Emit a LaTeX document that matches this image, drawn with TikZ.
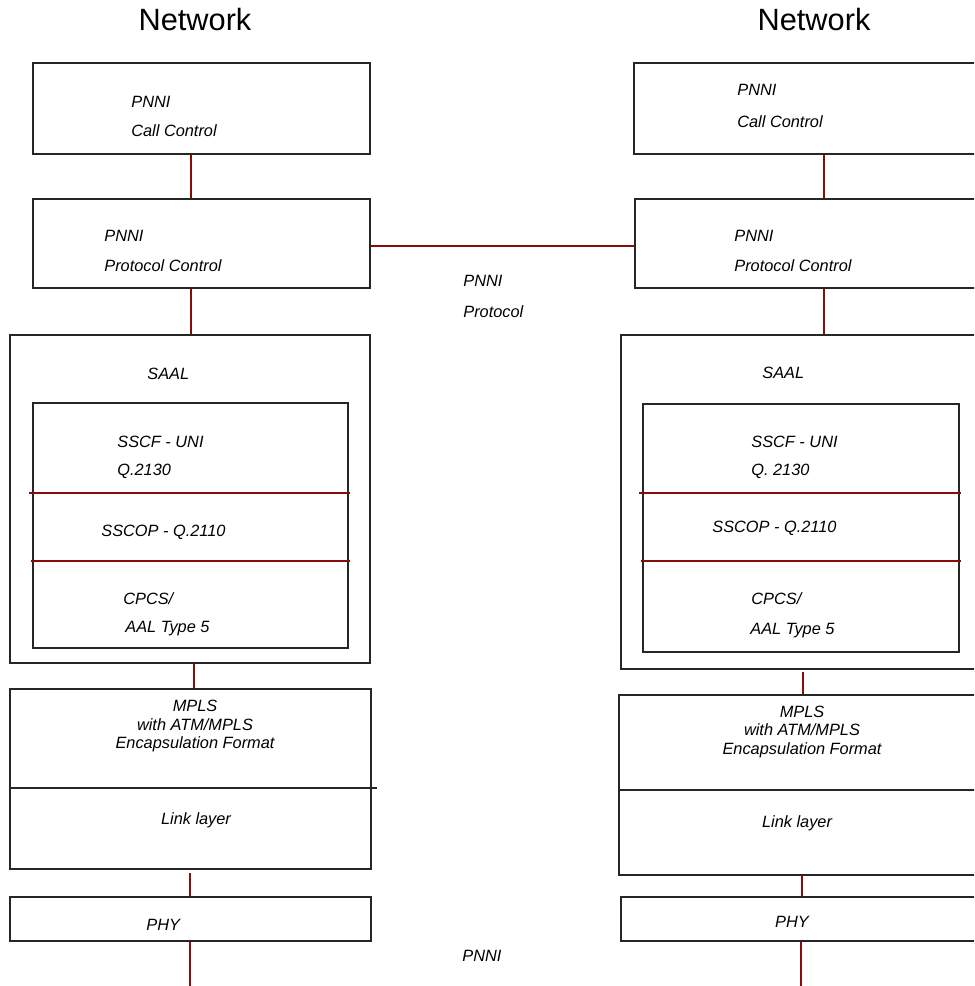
\documentclass[tikz,border=0pt]{standalone}
\usepackage{fontspec}
\setmainfont{Liberation Sans}
\usepackage{xcolor}
\usetikzlibrary{positioning,fit,calc}
\definecolor{linkred}{RGB}{135,12,12}

\begin{document}
\begin{tikzpicture}[x=0.02cm, y=-0.02cm,
  box/.style={draw=black!85, line width=0.8pt, inner sep=0pt},
  link/.style={draw=linkred, line width=0.9pt},
  lbl/.style={font=\fontsize{9.3}{11}\selectfont\itshape, inner sep=0pt},
  title/.style={font=\fontsize{17.5}{20}\selectfont, inner sep=0pt}]
\clip (0,0) rectangle (974,986);
% Titles
\node[title, anchor=base] (netL) at (195,31) {Network};
\node[title, anchor=base] (netR) at (814,31) {Network};
% Left stack
\node[box, fit={(33,63) (370,154)}] (callL) {};
\node[box, fit={(33,199) (370,288)}] (protL) {};
\node[box, fit={(10,335) (370,663)}] (saalL) {};
\node[box, fit={(33,403) (348,648)}] (subL) {};
\node[box, fit={(10,689) (371,869)}] (mplsL) {};
\node[box, fit={(10,897) (371,941)}] (phyL) {};
% Right stack (runs off the right edge)
\node[box, fit={(634,63) (1010,154)}] (callR) {};
\node[box, fit={(635,199) (1010,288)}] (protR) {};
\node[box, fit={(621,335) (1010,669)}] (saalR) {};
\node[box, fit={(643,404) (959,652)}] (subR) {};
\node[box, fit={(619,695) (1010,875)}] (mplsR) {};
\node[box, fit={(621,897) (1010,941)}] (phyR) {};
% SAAL sublayer dividers
\foreach \s in {L,R} {
    \draw[link] ([xshift=-2]sub\s.west |- 0,493) -- ([xshift=1]sub\s.east |- 0,493);
    \draw[link] ([xshift=-1]sub\s.west |- 0,561) -- ([xshift=1]sub\s.east |- 0,561);
}
% MPLS / link layer dividers
\draw[box] (mplsL.west |- 0,788) -- ([xshift=3]mplsL.east |- 0,788);
\draw[box] (mplsR.west |- 0,790) -- (mplsR.east |- 0,790);
% Vertical links, left
\draw[link] (callL.south -| 191,0) -- (protL.north -| 191,0);
\draw[link] (protL.south -| 191,0) -- (saalL.north -| 191,0);
\draw[link] (saalL.south -| 194,0) -- (mplsL.north -| 194,0);
\draw[link, shorten <=2pt] (mplsL.south -| 190,0) -- (phyL.north -| 190,0);
\coordinate (endL) at (190,986);
\draw[link] (phyL.south -| endL) -- (endL);
% Vertical links, right
\draw[link] (callR.south -| 824,0) -- (protR.north -| 824,0);
\draw[link] (protR.south -| 824,0) -- (saalR.north -| 824,0);
\draw[link, shorten <=1.5pt] (saalR.south -| 803,0) -- (mplsR.north -| 803,0);
\draw[link] (mplsR.south -| 802,0) -- (phyR.north -| 802,0);
\coordinate (endR) at (801,986);
\draw[link] (phyR.south -| endR) -- (endR);
% Peer link between protocol control
\draw[link] (protL.east |- 0,246) -- (protR.west |- 0,246);
% Labels, left
\node[lbl, anchor=base west] (ccaL) at (131,108) {PNNI};
\node[lbl, anchor=base west] (ccbL) at (131,137) {Call Control};
\node[lbl, anchor=base west] (pcaL) at (104,242) {PNNI};
\node[lbl, anchor=base west] (pcbL) at (104,272) {Protocol Control};
\node[lbl, anchor=base west] (saalTL) at (147,379) {SAAL};
\node[lbl, anchor=base west] (sscfaL) at (117,447) {SSCF - UNI};
\node[lbl, anchor=base west] (sscfbL) at (117,475) {Q.2130};
\node[lbl, anchor=base west] (sscopL) at (101,536) {SSCOP - Q.2110};
\node[lbl, anchor=base west] (cpcsaL) at (123,604) {CPCS/};
\node[lbl, anchor=base west] (cpcsbL) at (125,632) {AAL Type 5};
\node[lbl, anchor=base] (mplsaL) at (195,711) {MPLS};
\node[lbl, anchor=base] (mplsbL) at (195,730) {with ATM/MPLS};
\node[lbl, anchor=base] (mplscL) at (195,748) {Encapsulation Format};
\node[lbl, anchor=base] (linkTL) at (196,824) {Link layer};
\node[lbl, anchor=base west] (phyTL) at (146,930) {PHY};
% Labels, middle
\node[lbl, anchor=base west] (ppa) at (463,287) {PNNI};
\node[lbl, anchor=base west] (ppb) at (463,317) {Protocol};
\node[lbl, anchor=base west] (ppc) at (462,961) {PNNI};
% Labels, right
\node[lbl, anchor=base west] (ccaR) at (737,96) {PNNI};
\node[lbl, anchor=base west] (ccbR) at (737,128) {Call Control};
\node[lbl, anchor=base west] (pcaR) at (734,242) {PNNI};
\node[lbl, anchor=base west] (pcbR) at (734,272) {Protocol Control};
\node[lbl, anchor=base west] (saalTR) at (762,378) {SAAL};
\node[lbl, anchor=base west] (sscfaR) at (751,447) {SSCF - UNI};
\node[lbl, anchor=base west] (sscfbR) at (751,475) {Q. 2130};
\node[lbl, anchor=base west] (sscopR) at (712,532) {SSCOP - Q.2110};
\node[lbl, anchor=base west] (cpcsaR) at (751,604) {CPCS/};
\node[lbl, anchor=base west] (cpcsbR) at (750,634) {AAL Type 5};
\node[lbl, anchor=base] (mplsaR) at (802,717) {MPLS};
\node[lbl, anchor=base] (mplsbR) at (802,735) {with ATM/MPLS};
\node[lbl, anchor=base] (mplscR) at (802,754) {Encapsulation Format};
\node[lbl, anchor=base] (linkTR) at (797,827) {Link layer};
\node[lbl, anchor=base] (phyTR) at (792,927) {PHY};
\end{tikzpicture}
\end{document}
